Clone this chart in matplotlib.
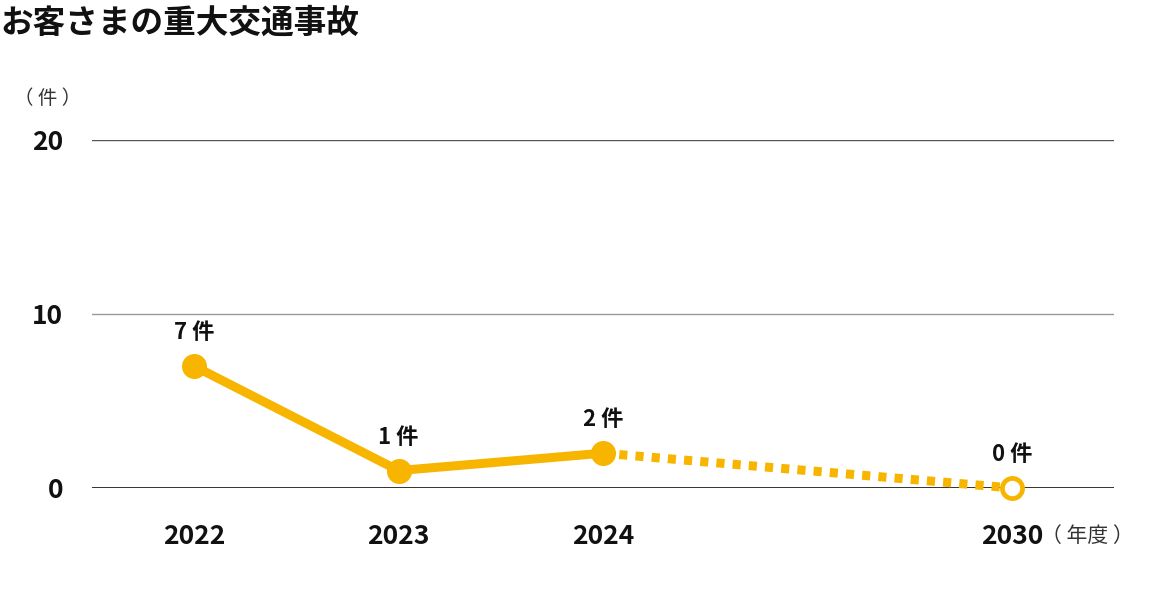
import matplotlib
matplotlib.use("Agg")
import matplotlib.pyplot as plt

plt.rcParams["font.family"] = ["Noto Sans CJK JP", "DejaVu Sans"]

years = ["2022", "2023", "2024", "2030"]
slots = [0, 1, 2, 4]
counts = [7, 1, 2, 0]
actual_n = 3  # first three are results, last one is the target

GOLD = "#F7B500"

fig = plt.figure(figsize=(11.52, 6.0), dpi=100)
ax = fig.add_axes([0.0799, 0.1867, 0.8872, 0.58])

ax.set_xlim(-0.5, 4.5)
ax.set_ylim(0, 20)

for yv, col in [(10, "#999999"), (20, "#555555")]:
    ax.axhline(yv, color=col, lw=1.0, zorder=1)
ax.axhline(0, color="#111111", lw=1.2, zorder=1)

# results: solid line
ax.plot(slots[:actual_n], counts[:actual_n], color=GOLD, lw=6.5, solid_capstyle="round",
        zorder=3)
# target: dotted line
ax.plot(slots[actual_n - 1:], counts[actual_n - 1:], color=GOLD, lw=6.5,
        linestyle=(0, (0.9, 0.9)), dash_capstyle="butt", zorder=2, clip_on=False)
ax.plot(slots[:actual_n], counts[:actual_n], "o", color=GOLD, markersize=17, zorder=4)
ax.plot(slots[actual_n:], counts[actual_n:], "o", markerfacecolor="white",
        markeredgecolor=GOLD, markeredgewidth=3.4, markersize=14.5, zorder=4, clip_on=False)

for x, v in zip(slots, counts):
    ax.annotate(f"{v} 件", (x, v), xytext=(0, 24), textcoords="offset points",
                ha="center", va="center", fontsize=16, fontweight="bold", color="#111111")

for s in ax.spines.values():
    s.set_visible(False)

ax.set_yticks([0, 10, 20])
ax.set_yticklabels(["0", "10", "20"])
ax.set_xticks(slots)
ax.set_xticklabels(years)
ax.tick_params(axis="y", length=0, pad=21, labelsize=19, labelcolor="#111111")
ax.tick_params(axis="x", length=0, pad=25, labelsize=19, labelcolor="#111111")
for lab in ax.get_xticklabels() + ax.get_yticklabels():
    lab.set_fontweight("bold")

fig.text(0.0, 0.962, "お客さまの重大交通事故", fontsize=23.5, fontweight="bold",
         ha="left", va="center", color="#111111")
fig.text(0.041, 0.835, "（ 件 ）", fontsize=14, ha="center", va="center", color="#333333")
fig.text(0.944, 0.107, "（ 年度 ）", fontsize=15, ha="center", va="center", color="#333333")

fig.savefig("out.png", dpi=100)
